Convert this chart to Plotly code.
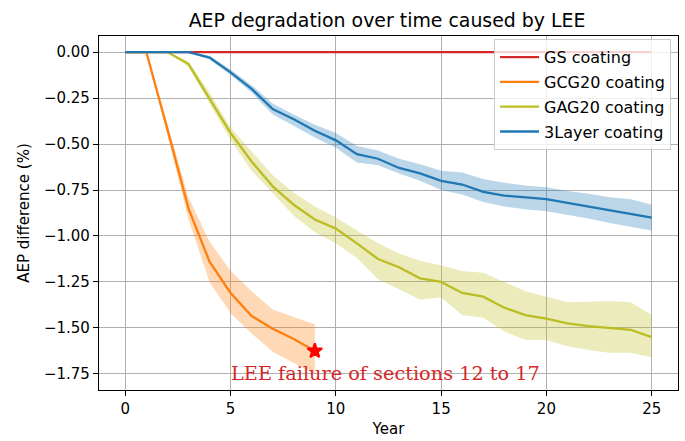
import plotly.graph_objects as go

years = list(range(26))
years_gcg = list(range(10))

gs_mean = [0.0] * 26

gcg_mean = [0.0, 0.0, -0.42, -0.85, -1.14, -1.31, -1.435, -1.505, -1.56, -1.625]
gcg_upper = [0.0, 0.0, -0.39, -0.79, -1.03, -1.19, -1.30, -1.40, -1.44, -1.48]
gcg_lower = [0.0, 0.0, -0.45, -0.91, -1.25, -1.42, -1.53, -1.63, -1.69, -1.75]

gag_mean = [0.0, 0.0, 0.0, -0.065, -0.25, -0.44, -0.595, -0.73, -0.83, -0.91, -0.96,
            -1.04, -1.125, -1.17, -1.23, -1.25, -1.31, -1.33, -1.39, -1.43, -1.45,
            -1.475, -1.49, -1.50, -1.51, -1.55]
gag_upper = [0.0, 0.0, 0.0, -0.05, -0.22, -0.41, -0.54, -0.67, -0.765, -0.84, -0.90,
             -0.97, -1.04, -1.095, -1.135, -1.16, -1.19, -1.20, -1.25, -1.30, -1.33,
             -1.36, -1.357, -1.353, -1.36, -1.43]
gag_lower = [0.0, 0.0, 0.0, -0.08, -0.28, -0.48, -0.645, -0.77, -0.89, -0.98, -1.04,
             -1.12, -1.235, -1.29, -1.345, -1.335, -1.43, -1.445, -1.52, -1.565, -1.565,
             -1.60, -1.62, -1.635, -1.635, -1.66]

tl_mean = [0.0, 0.0, 0.0, 0.0, -0.03, -0.11, -0.20, -0.31, -0.365, -0.428, -0.48,
           -0.555, -0.58, -0.63, -0.66, -0.70, -0.72, -0.76, -0.78, -0.79, -0.80,
           -0.82, -0.84, -0.86, -0.88, -0.90]
tl_upper = [0.0, 0.0, 0.0, 0.0, -0.02, -0.095, -0.18, -0.28, -0.34, -0.395, -0.44,
            -0.51, -0.535, -0.58, -0.61, -0.645, -0.655, -0.69, -0.71, -0.725, -0.735,
            -0.755, -0.77, -0.79, -0.80, -0.83]
tl_lower = [0.0, 0.0, 0.0, 0.0, -0.04, -0.125, -0.22, -0.34, -0.40, -0.465, -0.52,
            -0.60, -0.615, -0.66, -0.70, -0.75, -0.775, -0.815, -0.84, -0.855, -0.865,
            -0.885, -0.905, -0.93, -0.95, -0.97]

failure_year = [9]
failure_value = [-1.625]
failure_text = "LEE failure of sections 12 to 17"

names = ["GS coating", "GCG20 coating", "GAG20 coating", "3Layer coating"]
colors = ["#d62728", "#ff7f0e", "#bcbd22", "#1f77b4"]
fills = ["rgba(214,39,40,0.3)", "rgba(255,127,14,0.3)", "rgba(188,189,34,0.3)", "rgba(31,119,180,0.3)"]

fig = go.Figure()

# GS line
fig.add_trace(go.Scatter(x=years, y=gs_mean, mode="lines", name=names[0],
                         line=dict(color=colors[0], width=2.3), legendgroup="a"))

series = [
    (years_gcg, gcg_mean, gcg_upper, gcg_lower, 1, "b"),
    (years, gag_mean, gag_upper, gag_lower, 2, "c"),
    (years, tl_mean, tl_upper, tl_lower, 3, "d"),
]
for xs, m, up, lo, i, grp in series:
    fig.add_trace(go.Scatter(x=xs, y=up, mode="lines", line=dict(width=0, color=fills[i]),
                             showlegend=False, hoverinfo="skip"))
    fig.add_trace(go.Scatter(x=xs, y=lo, mode="lines", line=dict(width=0, color=fills[i]),
                             fill="tonexty", fillcolor=fills[i], showlegend=False, hoverinfo="skip"))
    fig.add_trace(go.Scatter(x=xs, y=m, mode="lines", name=names[i],
                             line=dict(color=colors[i], width=2.3), legendgroup=grp))

fig.add_trace(go.Scatter(x=failure_year, y=failure_value, mode="markers", showlegend=False,
                         marker=dict(symbol="star", size=11, color="red",
                                     line=dict(color="red", width=2))))

fig.add_annotation(x=5, y=-1.80, xref="x", yref="y", text=failure_text, showarrow=False,
                   xanchor="left", yanchor="bottom", yshift=-4, xshift=-2,
                   font=dict(family="DejaVu Serif", size=19.3, color="#d62728"))

axis_common = dict(showgrid=True, gridcolor="#b0b0b0", gridwidth=1.4, zeroline=False,
                   showline=True, mirror=True, linecolor="black", linewidth=1.3,
                   ticks="outside", ticklen=5, tickwidth=1.3, tickcolor="black",
                   tickfont=dict(family="DejaVu Sans", size=15, color="black"))

fig.update_xaxes(range=[-1.25, 26.25], tickvals=[0, 5, 10, 15, 20, 25],
                 title=dict(text="Year", font=dict(family="DejaVu Sans", size=15, color="black"),
                            standoff=6),
                 **axis_common)
fig.update_yaxes(range=[-1.8375, 0.0875], tickvals=[0, -0.25, -0.5, -0.75, -1.0, -1.25, -1.5, -1.75],
                 tickformat=".2f",
                 title=dict(text="AEP difference (%)", font=dict(family="DejaVu Sans", size=15, color="black"),
                            standoff=10),
                 **axis_common)

fig.update_layout(
    width=685, height=441,
    margin=dict(l=99, r=7, t=36, b=51),
    plot_bgcolor="white", paper_bgcolor="white",
    title=dict(text="AEP degradation over time caused by LEE", x=0.565, xanchor="center",
               y=1 - 20 / 441, yanchor="middle",
               font=dict(family="DejaVu Sans", size=18.9, color="black")),
    legend=dict(x=0.988, y=0.991, xanchor="right", yanchor="top",
                bgcolor="rgba(255,255,255,0.8)", bordercolor="#cccccc", borderwidth=1,
                font=dict(family="DejaVu Sans", size=16, color="black"),
                traceorder="grouped", tracegroupgap=1, entrywidth=180, itemwidth=39),
    showlegend=True,
)

fig.write_html("out.html")
